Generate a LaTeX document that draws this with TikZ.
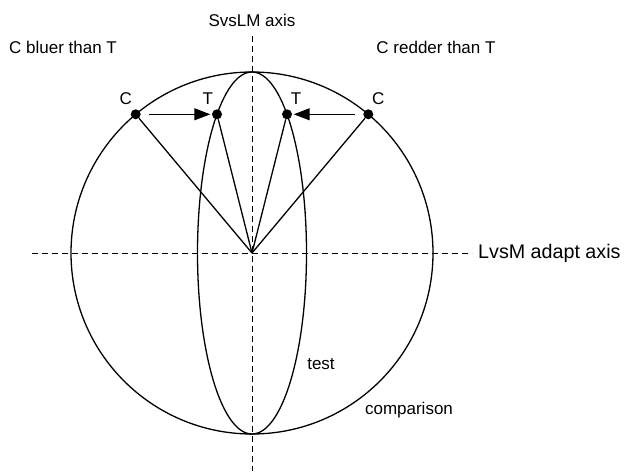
\documentclass[tikz,border=0pt]{standalone}
\usepackage{fontspec}
\setmainfont{Liberation Sans}
\usetikzlibrary{positioning, arrows.meta, calc}

\begin{document}
\begin{tikzpicture}[x=1pt, y=-1pt,
			dot/.style={circle, fill=black, inner sep=0pt, minimum size=10pt},
			axisline/.style={dash pattern=on 6pt off 4pt, line width=1pt},
			outline/.style={line width=1.3pt},
			ray/.style={line width=1.3pt},
			move/.style={-{Triangle[length=16pt, width=12pt]}, line width=1pt, shorten <=8pt, shorten >=1.5pt},
			lbl/.style={font=\fontsize{17}{20}\selectfont, inner sep=0pt}
			]
			\useasboundingbox (0,0) rectangle (626,471);
			\coordinate (o) at (252,253);
			
			% axes
			\node[lbl] (svslm) at (252,20) {SvsLM axis};
			\node[lbl, font=\fontsize{19.7}{22}\selectfont, anchor=west] (lvsm) at (478,253) {LvsM adapt axis};
			\coordinate (vtop) at (252,36);
			\coordinate (vbot) at (252,471);
			\coordinate (hleft) at (32,253);
			\draw[axisline] (vtop) -- (vbot);
			\draw[axisline] (hleft) -- ([xshift=-6pt]lvsm.west);
			
			% comparison circle and test ellipse
			\draw[outline] (o) circle[radius=181];
			\draw[outline] (o) ellipse[x radius=54.5, y radius=181];
			
			\node[dot] (cl) at ($(o)+(-116.3,-138.7)$) {};
			\node[dot] (tl) at ($(o)+(-35,-138.7)$) {};
			\node[dot] (tr) at ($(o)+(35,-138.7)$) {};
			\node[dot] (cr) at ($(o)+(116.3,-138.7)$) {};
			\node[lbl] (clname) [above left=6pt and 0pt of cl] {C};
			\node[lbl] (tlname) [above left=6pt and 0pt of tl] {T};
			\node[lbl] (trname) [above right=6pt and 0pt of tr] {T};
			\node[lbl] (crname) [above right=6pt and 0pt of cr] {C};
			
			\foreach \p in {cl, tl, tr, cr}
				\draw[ray] (\p) -- (o);
			\draw[move] (cl) -- (tl);
			\draw[move] (cr) -- (tr);
			
			\node[lbl] (bluer) at (63,47) {C bluer than T};
			\node[lbl] (redder) at (436,47) {C redder than T};
			\node[lbl] (test) at (321,364) {test};
			\node[lbl] (comp) at (409,410) {comparison};
		\end{tikzpicture}
\end{document}
